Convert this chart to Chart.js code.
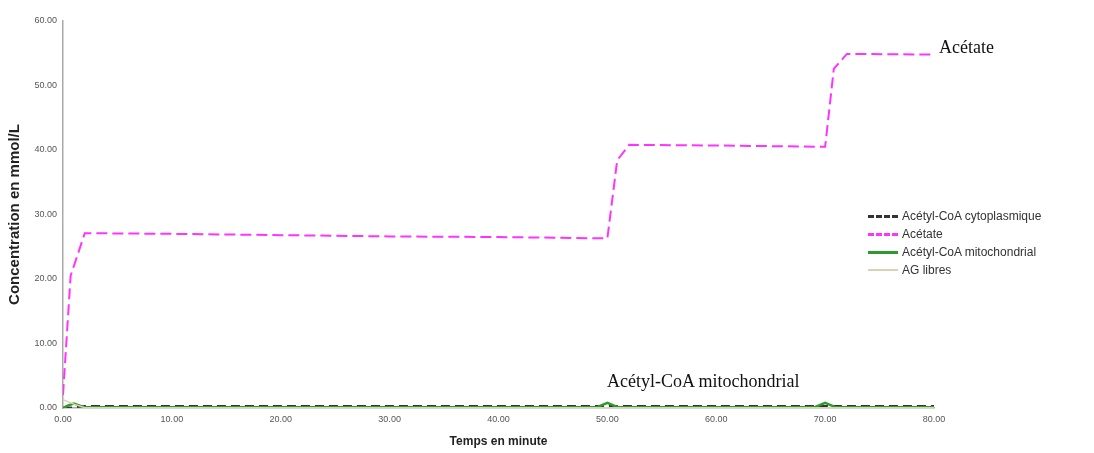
<!DOCTYPE html>
<html>
<head>
<meta charset="utf-8">
<script src="https://cdn.jsdelivr.net/npm/chart.js@4/dist/chart.umd.min.js"></script>
<style>
  body { margin: 0; background: #fff; }
  .wrap { position: relative; width: 1094px; height: 453px; }
  .legend { position: absolute; left: 868px; top: 207px; font: 12px "Liberation Sans", Arial, sans-serif; color: #333; }
  .legend div { height: 18px; line-height: 18px; display: flex; align-items: center; }
  .legend i { display: inline-block; width: 30px; height: 0; margin-right: 4px; }
  .note { position: absolute; font: 18px "Liberation Serif", "Times New Roman", serif; color: #111; white-space: nowrap; }
</style>
</head>
<body>
<div class="wrap">
  <canvas id="chart" width="1094" height="453"></canvas>
  <div class="legend">
    <div><i style="border-top:3px dashed #333"></i>Acétyl-CoA cytoplasmique</div>
    <div><i style="border-top:3px dashed #ff33ff"></i>Acétate</div>
    <div><i style="border-top:3px solid #2e9a2e"></i>Acétyl-CoA mitochondrial</div>
    <div><i style="border-top:2px solid #d8d4b0"></i>AG libres</div>
  </div>
  <div class="note" style="left:939px; top:37px;">Acétate</div>
  <div class="note" style="left:607px; top:371px;">Acétyl-CoA mitochondrial</div>
</div>
<script>
// time in minutes / concentration in mmol/L
const acetateT = [0, 0.7, 2, 10, 20, 30, 40, 50, 50.9, 52, 60, 70, 70.8, 72, 80];
const acetateV = [2.0, 20.5, 27.1, 27.0, 26.8, 26.6, 26.5, 26.3, 38.4, 40.8, 40.7, 40.5, 52.6, 54.9, 54.8];

const cytoT = [0, 1, 2, 80];
const cytoV = [0.0, 0.1, 0.3, 0.3];

const mitoT = [0, 0.5, 1, 2, 49, 50, 51, 69, 70, 71, 80];
const mitoV = [0.0, 0.4, 0.7, 0.1, 0.1, 0.8, 0.1, 0.1, 0.8, 0.1, 0.1];

const agT = [0, 1, 2, 80];
const agV = [1.3, 0.6, 0.05, 0.05];

const xTicks = [0, 10, 20, 30, 40, 50, 60, 70, 80];
const yTicks = [0, 10, 20, 30, 40, 50, 60];

const pts = (t, v) => t.map((x, i) => ({ x, y: v[i] }));
const tickFont = { family: "'Liberation Sans', Arial, sans-serif", size: 9 };
const sans = "'Liberation Sans', Arial, sans-serif";

new Chart(document.getElementById("chart"), {
  type: "line",
  data: {
    datasets: [
      { label: "AG libres", data: pts(agT, agV), borderColor: "#d8d4b0", borderWidth: 1.5 },
      { label: "Acétyl-CoA mitochondrial", data: pts(mitoT, mitoV), borderColor: "#2e9a2e", borderWidth: 2.5 },
      { label: "Acétyl-CoA cytoplasmique", data: pts(cytoT, cytoV), borderColor: "#333", borderWidth: 2, borderDash: [9, 5] },
      { label: "Acétate", data: pts(acetateT, acetateV), borderColor: "#ff33ff", borderWidth: 2, borderDash: [11, 5] },
    ],
  },
  options: {
    responsive: false,
    animation: false,
    elements: { point: { radius: 0 }, line: { tension: 0 } },
    layout: { padding: { top: 21, right: 160, left: 0, bottom: 0 } },
    plugins: { legend: { display: false }, tooltip: { enabled: false } },
    scales: {
      x: {
        type: "linear", min: 0, max: 80,
        afterBuildTicks: (s) => { s.ticks = xTicks.map((v) => ({ value: v })); },
        afterFit: (s) => { s.height = 45; },
        grid: { display: false, drawTicks: true, tickLength: 4, tickColor: "#999" },
        border: { color: "#aaa", width: 1.5 },
        ticks: { font: tickFont, color: "#555", padding: 2, maxRotation: 0, callback: (v) => Number(v).toFixed(2) },
        title: { display: true, text: "Temps en minute", font: { family: sans, size: 12, weight: "bold" }, color: "#222", padding: { top: 10 } },
      },
      y: {
        min: 0, max: 60,
        afterBuildTicks: (s) => { s.ticks = yTicks.map((v) => ({ value: v })); },
        afterFit: (s) => { s.width = 63; },
        grid: { display: false, drawTicks: true, tickLength: 4, tickColor: "#999" },
        border: { color: "#aaa", width: 1.5 },
        ticks: { font: tickFont, color: "#555", padding: 2, callback: (v) => Number(v).toFixed(2) },
        title: { display: true, text: "Concentration en mmol/L", font: { family: sans, size: 15, weight: "bold" }, color: "#222", padding: { top: 6, bottom: 4 } },
      },
    },
  },
});
</script>
</body>
</html>
